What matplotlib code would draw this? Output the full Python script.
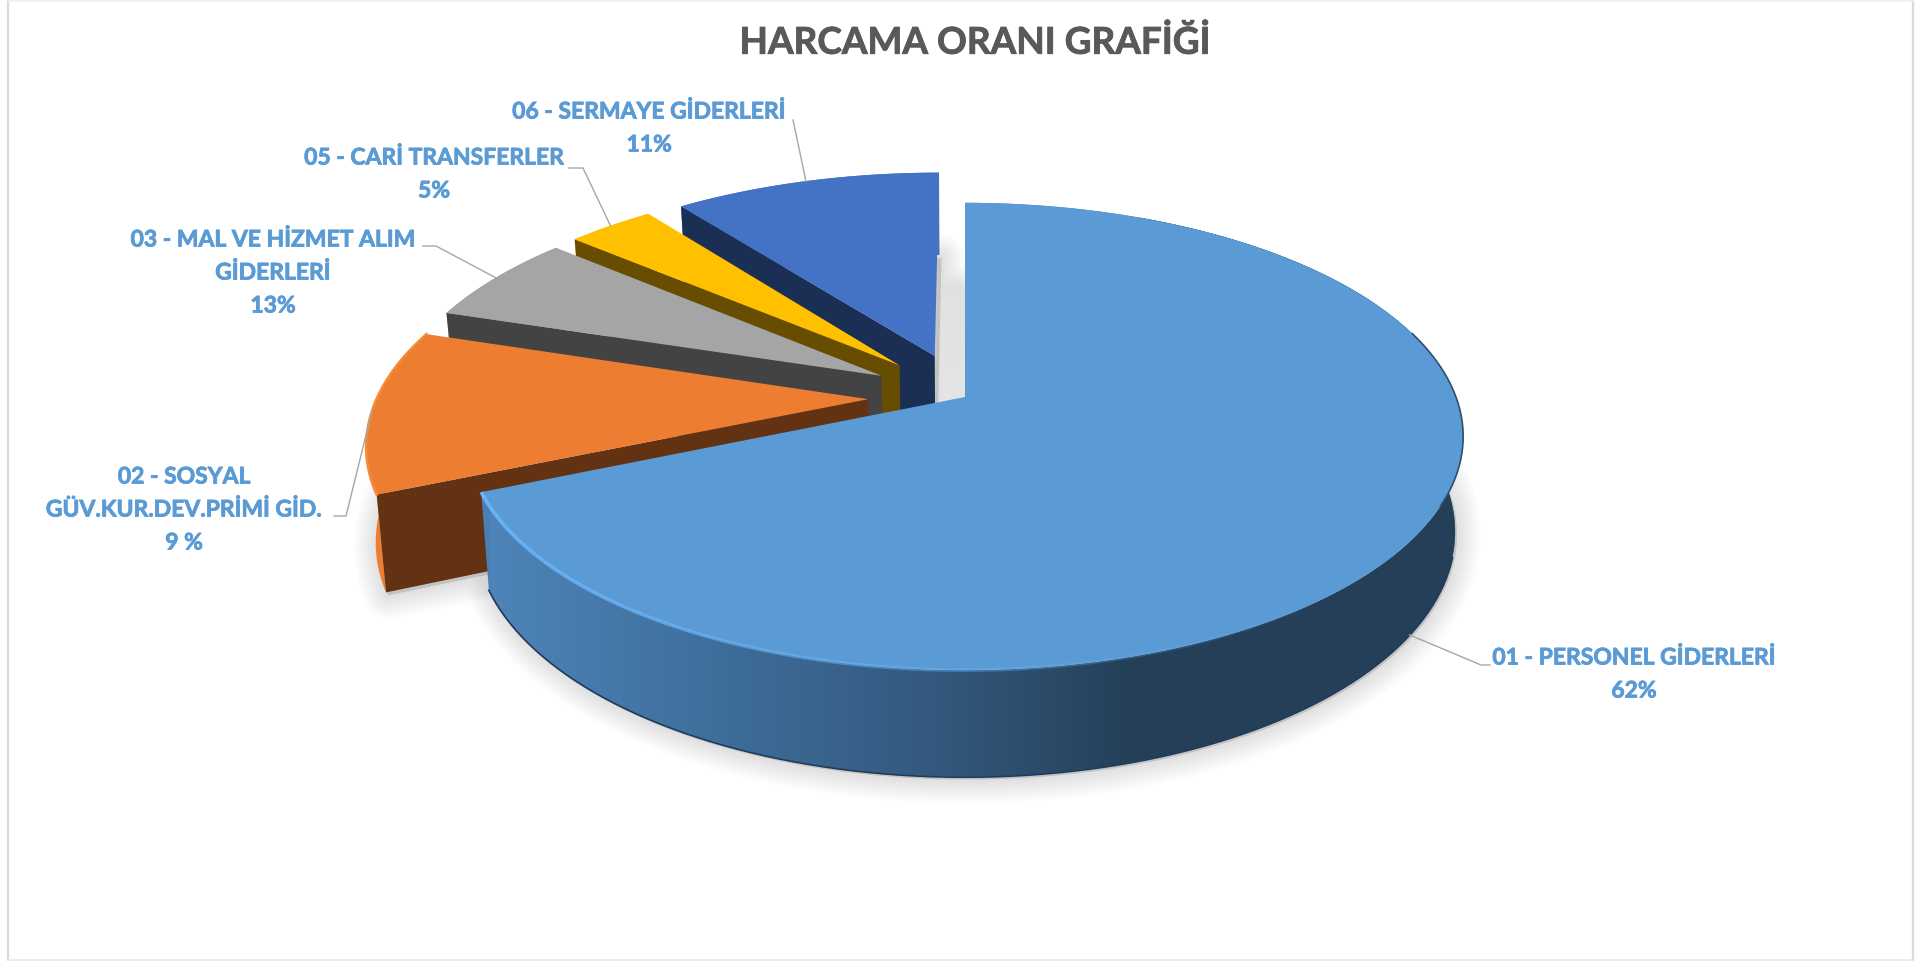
import numpy as np
import matplotlib
matplotlib.use("Agg")
import matplotlib.pyplot as plt
import matplotlib.patheffects as pe
from matplotlib.patches import Polygon, Rectangle
from matplotlib.collections import LineCollection
from matplotlib.colors import LinearSegmentedColormap

TITLE = "HARCAMA ORANI GRAFİĞİ"

# shares (the printed percentages differ from them)
names = ["01 - PERSONEL GİDERLERİ",
         "02 - SOSYAL\nGÜV.KUR.DEV.PRİMİ GİD.",
         "03 - MAL VE HİZMET ALIM\nGİDERLERİ",
         "05 - CARİ TRANSFERLER",
         "06 - SERMAYE GİDERLERİ"]
percent_labels = ["62%", "9 %", "13%", "5%", "11%"]
shares = [68.6, 11.25, 6.3, 3.4, 10.45]
explode = [0, 0.197, 0.197, 0.197, 0.197]

top_colors = ["#5B9BD5", "#ED7D31", "#A5A5A5", "#FFC000", "#4472C4"]
side_colors = ["#4A7FB3", "#633212", "#434343", "#664D00", "#1B2F54"]
rim_colors = ["#4A7FB3", "#ED7D31", "#A5A5A5", "#FFC000", "#4472C4"]

TEXT_BLUE = "#5B9BD5"
LEADER = "#A6A6A6"

# perspective of the top and bottom discs: a, b, k, x0, y0 (pixels)
TOP_PLANE = (491, 227, 0.169, 965, 397)
BOTTOM_PLANE = (483, 238, 0.17, 965, 490)

# label centres and leader elbows, in pixels
label_pos = [(1634, 658), (184, 477), (273, 240), (434, 158), (649, 112)]
elbows = [[(1481, 665), (1490, 665)],
          [(346, 516), (334, 516)],
          [(436, 246), (423, 246)],
          [(583, 168), (569, 168)],
          [(793, 120)]]
LINE_STEP = 33


def project(x, y, plane):
    a, b, k, x0, y0 = plane
    x = np.asarray(x, dtype=float)
    y = np.asarray(y, dtype=float)
    return x0 + a * x / (1 + k * y), y0 - b * y / (1 + k * y)


def disc_point(theta, offset):
    # theta in degrees, clockwise from 12 o'clock
    t = np.radians(theta)
    return offset[0] + np.sin(t), offset[1] + np.cos(t)


def stack(xs, ys):
    return np.column_stack([xs, ys])


def bold_text(x, y, txt, color, size, z):
    # Calibri bold sets darker than Lato bold, thicken it a little
    t = ax.text(x, y, txt, color=color, fontsize=size, fontweight="bold", family="Lato",
                ha="center", va="center", zorder=z)
    t.set_path_effects([pe.withStroke(linewidth=0.6, foreground=color)])


fig = plt.figure(figsize=(19.28, 9.61), dpi=100)
ax = fig.add_axes([0, 0, 1, 1])
ax.set_xlim(0, 1928)
ax.set_ylim(961, 0)
ax.axis("off")

# frame, sides stronger than top and bottom
ax.plot([8, 8], [0, 961], color="#DADADA", lw=1.6, zorder=0)
ax.plot([1913, 1913], [0, 961], color="#DADADA", lw=1.6, zorder=0)
ax.plot([8, 1913], [1, 1], color="#EFEFEF", lw=1.2, zorder=0)
ax.plot([8, 1913], [960, 960], color="#EAEAEA", lw=1.2, zorder=0)

edges = np.concatenate([[0], np.cumsum(shares)]) * 360 / np.sum(shares)
slices = []
for i in range(len(shares)):
    start, end = edges[i], edges[i + 1]
    mid = (start + end) / 2
    t = np.radians(mid)
    offset = (explode[i] * np.sin(t), explode[i] * np.cos(t))
    arc = np.linspace(start, end, 160)
    ax_, ay_ = disc_point(arc, offset)
    slices.append(dict(start=start, end=end, mid=mid, offset=offset, ax=ax_, ay=ay_))

# soft shadows under the pieces
for s in slices:
    bx, by = project(np.r_[s["offset"][0], s["ax"]], np.r_[s["offset"][1], s["ay"]], BOTTOM_PLANE)
    for lw in np.linspace(4, 34, 10):
        ax.add_patch(Polygon(stack(bx + 2, by + 3), closed=True, fc="none", ec=(0, 0, 0, 0.012),
                             lw=lw, joinstyle="round", zorder=1))
        ax.add_patch(Polygon(stack(bx + 2, by + 3), closed=True, fc=(0, 0, 0, 0.012), ec="none", zorder=1))

gradient_cmap = LinearSegmentedColormap.from_list("rim", ["#4E84B9", "#3F6F9C", "#345A80", "#243F57"])

z = 2
# back to front, the big blue piece goes last
for i in [4, 3, 2, 1, 0]:
    s = slices[i]
    ox, oy = s["offset"]
    tx, ty = project(s["ax"], s["ay"], TOP_PLANE)
    bx, by = project(s["ax"], s["ay"], BOTTOM_PLANE)
    apex_t = project(ox, oy, TOP_PLANE)
    apex_b = project(ox, oy, BOTTOM_PLANE)

    # outer rim
    rim = Polygon(stack(np.r_[tx, bx[::-1]], np.r_[ty, by[::-1]]), closed=True,
                  fc=rim_colors[i], ec="none", zorder=z)
    ax.add_patch(rim)
    z += 1
    if i == 0:
        grad = np.linspace(0, 1, 256).reshape(1, -1)
        im = ax.imshow(grad, extent=(490, 1140, 800, 400), cmap=gradient_cmap, aspect="auto", zorder=z)
        im.set_clip_path(rim)
        z += 1
        rest = Polygon(stack(np.r_[tx, bx[::-1]], np.r_[ty, by[::-1]]), closed=True, fc="#243F57",
                       ec="none", zorder=z)
        ax.add_patch(rest)
        rest.set_clip_path(Rectangle((1139, 0), 800, 961, transform=ax.transData))
        z += 1
        front = s["ay"] < -0.25
        ax.plot(bx[front], by[front] + 0.5, color="#1F3A58", lw=1.2, zorder=z)
        z += 1
    else:
        # side face showing towards the viewer, runs along the start edge
        ax.add_patch(Polygon([apex_t, (tx[0], ty[0]), (bx[0], by[0]), apex_b], closed=True,
                             fc=side_colors[i], ec="none", zorder=z))
        z += 1

    # top of the slice
    ax.add_patch(Polygon(stack(np.r_[apex_t[0], tx], np.r_[apex_t[1], ty]), closed=True,
                         fc=top_colors[i], ec="none", zorder=z))
    z += 1

    if i == 0:
        # light bevel on the front left, thin dark one on the right
        n = 70
        pts = stack(tx[::-1][:n], ty[::-1][:n]).reshape(-1, 1, 2)
        segs = np.concatenate([pts[:-1], pts[1:]], axis=1)
        alphas = np.linspace(1, 0, n - 1)
        cols = [(0.42, 0.71, 0.98, a) for a in alphas]
        ax.add_collection(LineCollection(segs, colors=cols, linewidths=2.6, zorder=z))
        z += 1
        keep = (s["ax"] > 0.8) & (s["ay"] > -0.45) & (s["ay"] < 0.3)
        ax.plot(tx[keep], ty[keep], color="#2F4F6E", lw=1.2, zorder=z)
        z += 1
    if i == 1:
        ax.plot(tx, ty, color="#F88A36", lw=1.8, zorder=z)
        z += 1

# labels and leader lines
for i, s in enumerate(slices):
    px, py = disc_point(s["mid"], s["offset"])
    plane = BOTTOM_PLANE if i == 0 else TOP_PLANE
    sx, sy = project(px, py, plane)
    line = [(float(sx), float(sy))] + elbows[i]
    ax.plot([p[0] for p in line], [p[1] for p in line], color=LEADER, lw=1.0, zorder=z)
    lines = names[i].split("\n") + [percent_labels[i]]
    cx, cy = label_pos[i]
    for j, txt in enumerate(lines):
        bold_text(cx, cy + j * LINE_STEP, txt, TEXT_BLUE, 16.5, z + 1)

bold_text(975, 43, TITLE, "#595959", 26.6, z + 1)

ax.set_xlim(0, 1928)
ax.set_ylim(961, 0)
fig.savefig("out.png", dpi=100)
